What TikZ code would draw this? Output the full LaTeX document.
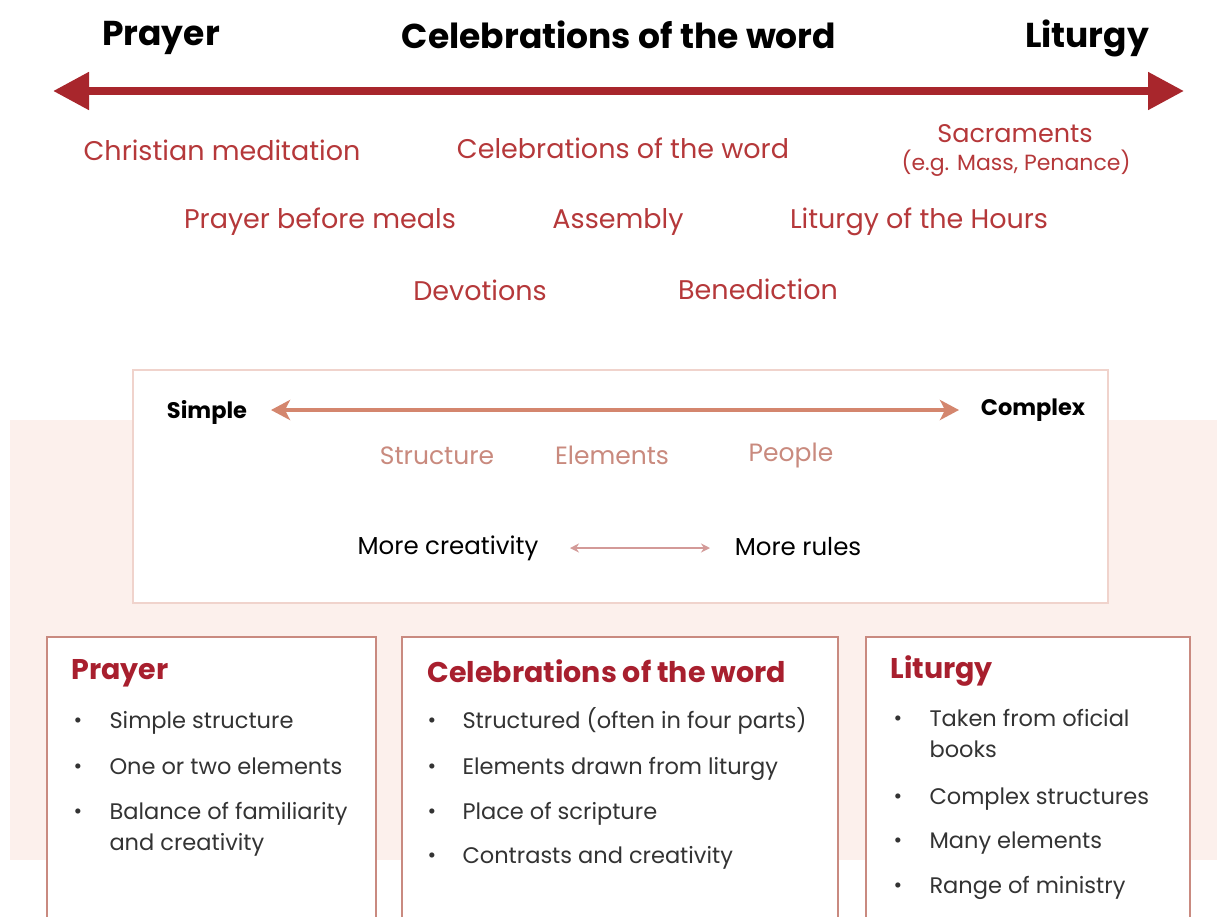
\documentclass[tikz,border=0pt]{standalone}
\usepackage{fontspec}
\setmainfont{Poppins}
\usetikzlibrary{arrows.meta}
\definecolor{deepred}{HTML}{A8262C}
\definecolor{labelred}{HTML}{B5383A}
\definecolor{headred}{HTML}{A81F2E}
\definecolor{salmon}{HTML}{D4866E}
\definecolor{softred}{HTML}{C98A7E}
\definecolor{thinpink}{HTML}{D39A98}
\definecolor{panelpink}{HTML}{FCF0EC}
\definecolor{boxedge}{HTML}{C98A80}
\definecolor{lightedge}{HTML}{F0D3CC}
\definecolor{bodygray}{HTML}{333333}
\begin{document}
\begin{tikzpicture}[x=1pt,y=-1pt,
  toplabel/.style={font=\fontsize{34.5}{40}\selectfont\bfseries},
  redlabel/.style={text=labelred,font=\fontsize{27}{32}\selectfont},
  scalelabel/.style={font=\fontsize{24.5}{29}\selectfont},
  softlabel/.style={text=softred,font=\fontsize{25}{30}\selectfont},
  boxhead/.style={anchor=west,text=headred,font=\fontsize{28.5}{34}\selectfont\bfseries},
  item/.style={anchor=base west,text=bodygray,font=\fontsize{22.5}{27}\selectfont},
  dot/.style={anchor=center,text=bodygray,font=\fontsize{21}{24}\selectfont}]
\clip (0,0) rectangle (1217,916);
\fill[panelpink] (10,420) rectangle (1217,860);
% top scale
\node[toplabel] (prayer) at (161,38) {Prayer};
\node[toplabel] (celeb) at (619,35) {Celebrations of the word};
\node[toplabel] (liturgy) at (1087,38) {Liturgy};
\coordinate (lend) at (53,91);
\coordinate (rend) at (1184,91);
\draw[deepred,line width=8pt,{Triangle[length=36pt,width=36pt]}-{Triangle[length=36pt,width=36pt]}] (lend) -- (rend);
\node[redlabel] (medit) at (222,150) {Christian meditation};
\node[redlabel] (wordcel) at (623,148) {Celebrations of the word};
\node[redlabel,font=\fontsize{25.5}{30}\selectfont] (sacr) at (1015,134) {Sacraments};
\node[redlabel,font=\fontsize{22}{26}\selectfont] (sacrex) at (1016,163) {(e.g. Mass, Penance)};
\node[redlabel] (meals) at (320,222) {Prayer before meals};
\node[redlabel] (assem) at (618,222) {Assembly};
\node[redlabel] (hours) at (919,222) {Liturgy of the Hours};
\node[redlabel] (devot) at (480,290) {Devotions};
\node[redlabel] (bened) at (758,289) {Benediction};
% middle box
\draw[lightedge,line width=2pt,fill=white] (133,370) rectangle (1108,603);
\node[scalelabel,font=\fontsize{22.5}{27}\selectfont\bfseries] (simple) at (207,412) {Simple};
\node[scalelabel,font=\fontsize{22.5}{27}\selectfont\bfseries] (complex) at (1033,410) {Complex};
\coordinate (sl) at (271,410);
\coordinate (sr) at (959,410);
\draw[salmon,line width=3.5pt,{Stealth[length=19pt,width=20pt,inset=5pt]}-{Stealth[length=19pt,width=20pt,inset=5pt]}] (sl) -- (sr);
\node[softlabel] (struct) at (437,456) {Structure};
\node[softlabel] (elem) at (612,455) {Elements};
\node[softlabel] (people) at (791,455) {People};
\node[scalelabel] (creat) at (448,548) {More creativity};
\node[scalelabel] (rules) at (798,547) {More rules};
\coordinate (cl) at (570,548);
\coordinate (cr) at (710,548);
\draw[thinpink,line width=1.8pt,{Stealth[length=9pt,width=9pt]}-{Stealth[length=9pt,width=9pt]}] (cl) -- (cr);
% bottom boxes
\foreach \xa/\xb in {47/376,402/838,866/1190}
  \draw[boxedge,line width=1.5pt,fill=white] (\xa,637) rectangle (\xb,940);
\node[boxhead] (hprayer) at (68,673) {Prayer};
\node[boxhead] (hword) at (424,671) {Celebrations of the word};
\node[boxhead] (hlit) at (887,671) {Liturgy};
\foreach \y/\t [count=\i] in {720/Simple structure,766/One or two elements,811/Balance of familiarity}{
  \node[dot] (pd\i) at (78,\y+3) {•};
  \node[item] (pt\i) at (106,\y+8) {\t};}
\node[item] (pt4) at (106,850) {and creativity};
\foreach \y/\t [count=\i] in {720/Structured (often in four parts),766/Elements drawn from liturgy,811/Place of scripture,855/Contrasts and creativity}{
  \node[dot] (wd\i) at (432,\y+3) {•};
  \node[item] (wt\i) at (459,\y+8) {\t};}
\foreach \y/\t [count=\i] in {718/Taken from oficial,796/Complex structures,840/Many elements,885/Range of ministry}{
  \node[dot] (ld\i) at (898,\y+3) {•};
  \node[item] (lt\i) at (926,\y+8) {\t};}
\node[item] (lt5) at (926,757) {books};
\end{tikzpicture}
\end{document}
